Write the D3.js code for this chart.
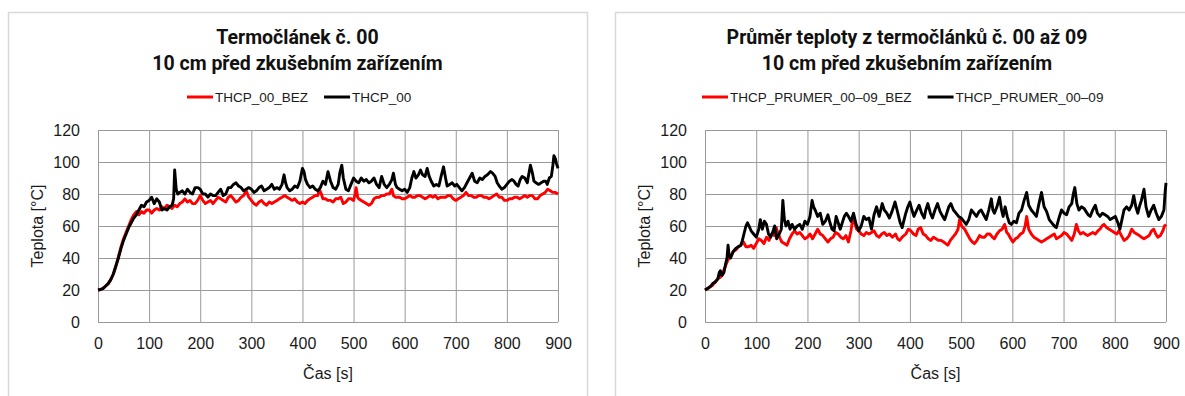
<!DOCTYPE html>
<html>
<head>
<meta charset="utf-8">
<script src="https://cdn.jsdelivr.net/npm/d3@7"></script>
<style>
  body { margin: 0; background: #fff; }
  svg { display: block; }
  .tick text { font-family: "Liberation Sans", Arial, sans-serif; font-size: 16px; fill: #1a1a1a; }
  .grid line { stroke: #9a9a9a; stroke-width: 1; }
  .grid path { display: none; }
  .title { font-family: Roboto, "Noto Sans", sans-serif; font-weight: 700; font-size: 19.5px; fill: #111; }
  .legend text { font-family: "Liberation Sans", Arial, sans-serif; font-size: 13.5px; fill: #1a1a1a; }
  .axis-title { font-family: "Liberation Sans", Arial, sans-serif; font-size: 16px; fill: #1a1a1a; }
</style>
</head>
<body>
<svg id="chart" width="1185" height="396"></svg>
<script>
// x ticks / y ticks shared by both charts
const timeTicks = [0, 100, 200, 300, 400, 500, 600, 700, 800, 900];
const tempTicks = [0, 20, 40, 60, 80, 100, 120];

// Termočlánek č. 00  -> [time s, temperature °C]
const thcp00Bez = [[0,20],[5,20.3],[10,21],[15,22.5],[20,24],[25,26.5],[30,30],[35,35],[40,41],[45,47],[50,52],[55,56],[60,60],[65,64],[70,67],[75,69],[80,67],[85,69],[90,68],[95,70],[100,70],[105,68],[110,70],[115,71],[120,70],[125,72],[130,71],[135,73],[140,72],[145,71],[150,73],[155,72],[160,74],[165,75],[170,77],[175,75],[180,76],[185,74],[190,74],[195,76],[200,79],[205,76],[210,74],[215,75],[220,76],[225,74],[230,76],[235,78],[240,77],[245,76],[250,75],[255,78],[260,79],[265,77],[270,75],[275,76],[280,78],[285,79],[290,82],[295,78],[300,76],[305,74],[310,73],[315,75],[320,76],[325,74],[330,73],[335,75],[340,74],[345,75],[350,76],[355,77],[360,78],[365,79],[370,78],[375,77],[380,76],[385,77],[390,75],[395,74],[400,75],[405,74],[410,76],[415,77],[420,78],[425,79],[430,79],[433,83],[437,80],[440,77],[445,77],[450,76],[455,76],[460,75],[465,77],[470,77],[475,78],[480,74],[485,75],[490,77],[495,77],[500,76],[503,80],[505,84],[508,78],[510,77],[515,76],[520,75],[525,74],[530,73],[535,74],[540,77],[545,78],[550,78],[555,79],[560,79],[565,80],[570,80],[575,83],[578,79],[582,78],[585,78],[590,78],[595,77],[600,77],[605,78],[610,79],[615,78],[620,78],[625,79],[630,79],[635,78],[640,77],[645,78],[650,79],[655,78],[660,79],[665,77],[670,78],[675,78],[680,78],[685,79],[690,79],[695,77],[700,76],[705,77],[710,78],[715,79],[720,81],[725,79],[730,79],[735,78],[740,78],[745,79],[750,79],[755,78],[760,78],[765,77],[770,78],[775,79],[780,80],[785,78],[790,78],[795,76],[800,76],[805,77],[810,77],[815,78],[820,78],[825,77],[830,78],[835,79],[840,78],[845,79],[850,79],[855,77],[860,77],[865,79],[870,80],[875,81],[880,83],[885,82],[890,81],[895,81],[900,80]];
const thcp00 = [[0,20],[5,20.3],[10,21],[15,22.5],[20,24],[25,26.5],[30,30],[35,35],[40,40],[45,46],[50,51],[55,55],[60,59],[65,62],[70,65],[75,67],[80,70],[85,73],[90,72],[95,75],[100,76],[105,78],[110,74],[115,77],[120,75],[125,70],[130,71],[135,70],[140,72],[145,73],[148,77],[150,95],[153,83],[156,80],[160,81],[165,82],[170,80],[175,83],[180,81],[185,80],[190,84],[195,84],[200,83],[205,80],[210,80],[215,78],[220,80],[225,79],[230,79],[235,81],[240,83],[245,79],[250,80],[255,84],[260,84],[265,86],[270,87],[275,85],[280,84],[285,82],[290,83],[295,84],[300,83],[305,81],[310,82],[315,84],[320,85],[325,82],[330,83],[335,84],[340,86],[345,83],[350,84],[355,83],[360,86],[364,92],[367,87],[370,84],[375,82],[380,83],[385,85],[390,84],[395,88],[400,96],[403,94],[406,89],[410,86],[415,84],[420,85],[425,83],[430,82],[435,84],[440,88],[445,86],[450,94],[455,88],[460,84],[465,83],[470,86],[473,93],[477,98],[480,90],[485,83],[490,82],[495,86],[500,90],[505,88],[510,87],[515,90],[520,88],[525,89],[530,87],[535,88],[540,90],[545,86],[550,84],[555,91],[560,86],[565,84],[570,86],[575,89],[578,93],[582,86],[585,84],[590,83],[595,82],[600,83],[605,81],[610,84],[614,90],[618,94],[622,90],[627,92],[631,95],[635,92],[640,91],[644,96],[648,91],[652,88],[657,85],[662,86],[667,85],[672,92],[676,97],[680,90],[683,85],[688,86],[693,87],[698,85],[702,86],[707,84],[712,82],[717,84],[722,87],[727,90],[732,93],[737,88],[742,87],[747,90],[752,89],[757,91],[762,92],[768,94],[772,93],[777,91],[781,87],[785,85],[790,83],[795,84],[800,86],[805,88],[810,89],[814,88],[818,86],[822,85],[826,89],[830,91],[835,90],[840,87],[842,91],[846,98],[850,93],[853,88],[857,87],[862,86],[867,87],[872,88],[876,88],[879,86],[883,90],[887,91],[890,98],[892,104],[895,102],[897,99],[900,96]];

// Průměr termočlánků 00–09
const prumerBez = [[0,20],[5,21],[10,22],[15,23],[20,25],[25,27],[30,28],[35,31],[40,35],[45,39],[50,41],[55,44],[60,45],[65,47],[70,48],[75,50],[80,47],[85,47],[90,48],[95,46],[100,49],[105,52],[110,51],[115,49],[120,53],[125,51],[130,55],[135,54],[139,59],[143,55],[147,52],[150,50],[155,49],[160,48],[165,52],[170,55],[175,57],[180,55],[185,56],[190,54],[195,52],[200,53],[205,55],[210,52],[215,55],[220,58],[225,55],[230,54],[235,52],[240,50],[245,52],[250,53],[255,56],[260,55],[265,53],[270,52],[275,54],[280,50],[285,57],[289,66],[292,62],[296,58],[300,57],[305,55],[310,54],[315,56],[320,55],[325,56],[330,57],[335,54],[340,53],[345,55],[350,56],[355,54],[360,55],[366,53],[372,55],[376,52],[380,51],[385,53],[392,55],[397,58],[402,57],[407,55],[412,54],[416,58],[421,59],[426,55],[431,54],[436,52],[441,51],[446,53],[451,52],[456,51],[461,51],[466,50],[470,49],[474,48],[479,51],[484,53],[489,55],[494,58],[497,64],[501,60],[507,58],[512,55],[517,52],[522,50],[526,49],[531,51],[536,54],[541,53],[546,53],[551,55],[556,55],[561,53],[565,52],[570,55],[575,57],[580,58],[585,61],[589,56],[592,55],[597,52],[601,50],[606,52],[611,53],[616,55],[621,56],[625,60],[628,66],[632,58],[637,55],[642,53],[647,52],[652,51],[657,50],[662,51],[667,52],[672,53],[677,54],[682,55],[686,52],[691,53],[696,54],[701,56],[706,55],[711,53],[716,51],[721,55],[725,61],[729,57],[733,55],[738,56],[742,55],[747,54],[752,55],[757,56],[762,55],[767,57],[771,58],[775,60],[779,61],[784,59],[789,58],[794,57],[799,56],[804,55],[808,57],[813,54],[818,51],[823,52],[828,54],[833,58],[838,56],[843,55],[848,54],[852,53],[857,52],[862,53],[867,54],[872,57],[876,58],[880,55],[884,53],[889,54],[894,57],[897,60],[900,61]];
const prumer = [[0,20],[5,21],[10,22],[15,24],[20,25],[25,27],[28,31],[30,32],[33,29],[37,31],[40,36],[43,40],[45,48],[47,42],[50,40],[55,44],[60,46],[65,47],[70,48],[73,51],[76,55],[80,60],[83,62],[86,60],[90,57],[95,55],[100,53],[105,58],[108,64],[112,58],[116,63],[120,61],[124,55],[128,53],[132,56],[136,60],[140,52],[145,55],[149,58],[152,76],[155,64],[158,60],[162,63],[166,58],[170,61],[175,58],[180,60],[185,61],[190,58],[195,63],[200,61],[205,66],[209,76],[212,72],[215,70],[220,66],[225,68],[230,61],[235,63],[240,67],[244,62],[248,58],[252,57],[256,66],[260,62],[264,58],[268,62],[272,66],[276,68],[280,66],[285,63],[290,68],[295,61],[300,57],[305,60],[310,66],[315,64],[320,65],[325,58],[330,67],[335,72],[340,66],[346,74],[350,70],[355,68],[360,65],[365,69],[371,75],[375,70],[378,66],[381,62],[385,59],[388,63],[392,68],[396,72],[400,75],[404,70],[408,66],[412,69],[418,73],[423,68],[428,65],[431,70],[435,74],[440,68],[444,65],[449,70],[454,74],[459,69],[464,66],[468,64],[472,68],[476,72],[480,74],[485,70],[490,68],[495,66],[500,65],[505,63],[510,61],[515,64],[520,70],[525,68],[530,66],[535,69],[539,70],[544,67],[549,64],[554,70],[559,77],[562,70],[565,68],[570,72],[575,78],[579,70],[582,66],[586,72],[590,66],[594,62],[598,61],[603,63],[608,62],[613,68],[618,70],[623,76],[628,81],[632,73],[637,70],[642,68],[647,66],[652,74],[657,81],[662,72],[667,69],[672,64],[677,62],[682,60],[686,59],[691,65],[696,70],[701,68],[706,67],[711,72],[716,74],[719,80],[722,84],[726,74],[730,70],[735,72],[740,71],[744,69],[748,67],[752,66],[757,70],[762,73],[766,68],[771,66],[776,68],[781,67],[786,66],[791,64],[796,65],[801,66],[806,62],[810,58],[814,64],[818,70],[823,72],[828,70],[833,73],[837,79],[841,72],[845,68],[848,72],[852,76],[857,83],[861,72],[866,66],[871,70],[876,73],[881,68],[886,64],[891,66],[896,70],[898,80],[900,87]];

const svg = d3.select("#chart");

function drawChart(o) {
    // panel frame
    svg.append("rect")
        .attr("x", o.panel[0] + 0.5).attr("y", 12.5)
        .attr("width", o.panel[1] - o.panel[0]).attr("height", 420)
        .attr("fill", "#fff").attr("stroke", "#d9d9d9").attr("stroke-width", 1.5);

    let x = d3.scaleLinear().domain([0, 900]).range([o.left, o.right]);
    let y = d3.scaleLinear().domain([0, 120]).range([322, 130]);
    let g = svg.append("g");

    // gridlines + tick labels
    g.append("g").attr("class", "grid")
        .attr("transform", "translate(0,322)")
        .call(d3.axisBottom(x).tickValues(timeTicks).tickSize(-192).tickPadding(16));
    g.append("g").attr("class", "grid")
        .attr("transform", "translate(" + o.left + ",0)")
        .call(d3.axisLeft(y).tickValues(tempTicks).tickSize(-(o.right - o.left)).tickPadding(18));

    let line = d3.line().x(d => x(d[0])).y(d => y(d[1]));
    o.series.forEach(s => {
        g.append("path").datum(s.data)
            .attr("fill", "none").attr("stroke", s.color)
            .attr("stroke-width", 2.9).attr("stroke-linejoin", "round")
            .attr("d", line);
    });

    // titles
    let cx = (o.panel[0] + o.panel[1]) / 2;
    svg.append("text").attr("class", "title").attr("text-anchor", "middle")
        .attr("x", cx).attr("y", 43.5).text(o.title[0]);
    svg.append("text").attr("class", "title").attr("text-anchor", "middle")
        .attr("x", cx).attr("y", 70).text(o.title[1]);

    // legend
    let lg = svg.append("g").attr("class", "legend");
    let lx = o.legendX;
    o.series.forEach(s => {
        lg.append("line").attr("x1", lx).attr("x2", lx + 26).attr("y1", 97).attr("y2", 97)
            .attr("stroke", s.color).attr("stroke-width", 3);
        let t = lg.append("text").attr("x", lx + 28).attr("y", 102).text(s.name);
        lx += 28 + t.node().getComputedTextLength() + 16;
    });

    svg.append("text").attr("class", "axis-title").attr("text-anchor", "middle")
        .attr("x", (o.left + o.right) / 2).attr("y", 379).text("Čas [s]");
    svg.append("text").attr("class", "axis-title").attr("text-anchor", "middle")
        .attr("transform", "translate(" + (o.left - 55) + ",226) rotate(-90)")
        .text("Teplota [°C]");
}

drawChart({
    panel: [8, 587], left: 98, right: 558, legendX: 187,
    title: ["Termočlánek č. 00", "10 cm před zkušebním zařízením"],
    series: [
        {name: "THCP_00_BEZ", color: "#ff0000", data: thcp00Bez},
        {name: "THCP_00", color: "#000000", data: thcp00}
    ]
});

drawChart({
    panel: [615, 1199], left: 705, right: 1166, legendX: 702,
    title: ["Průměr teploty z termočlánků č. 00 až 09", "10 cm před zkušebním zařízením"],
    series: [
        {name: "THCP_PRUMER_00–09_BEZ", color: "#ff0000", data: prumerBez},
        {name: "THCP_PRUMER_00–09", color: "#000000", data: prumer}
    ]
});
</script>
</body>
</html>
